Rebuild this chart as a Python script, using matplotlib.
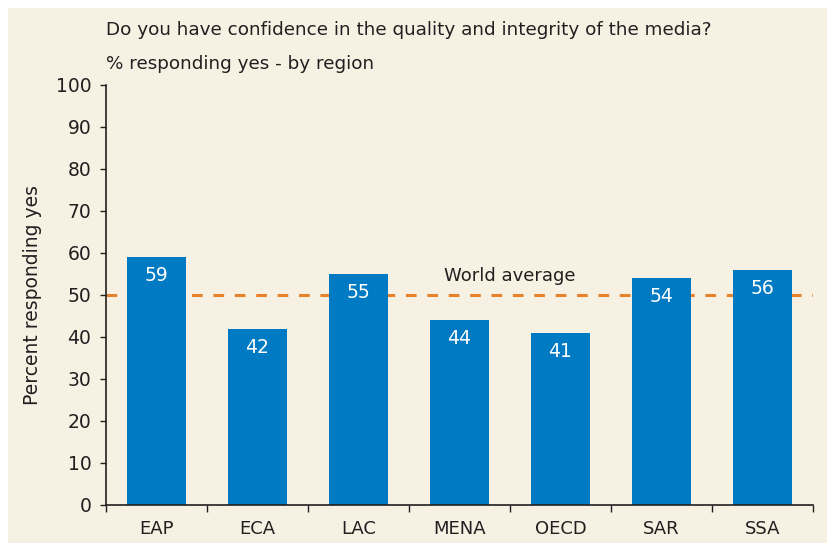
import matplotlib.pyplot as plt
from matplotlib.patches import Rectangle

regions = ["EAP", "ECA", "LAC", "MENA", "OECD", "SAR", "SSA"]
pct_yes = [59, 42, 55, 44, 41, 54, 56]
world_avg = 50

plt.rcParams['font.family'] = ['DejaVu Sans']

cream = "#F6F1E3"
blue = "#007AC2"
orange = "#E8822A"
dark = "#231F20"

fig = plt.figure(figsize=(8.28, 5.43), dpi=100, facecolor="white")
fig.patches.append(Rectangle((8 / 828, 0), 1, 1 - 8 / 543, transform=fig.transFigure,
                             facecolor=cream, edgecolor="none", zorder=-10))

W, H = 828, 543
left, right, top, bottom = 106, 813, 85, 505
ax = fig.add_axes([left / W, 1 - bottom / H, (right - left) / W, (bottom - top) / H])
ax.set_facecolor(cream)

x = list(range(len(regions)))
ax.axhline(world_avg, color=orange, linestyle=(0, (3.5, 3.5)), linewidth=2.2, zorder=1)
bars = ax.bar(x, pct_yes, width=0.58, color=blue, zorder=2)
for xi, v in zip(x, pct_yes):
    ax.annotate(str(v), (xi, v), xytext=(0, -13.5), textcoords="offset points",
                ha="center", va="center", color="white", fontsize=13.5, zorder=3)

ax.text(3.5, world_avg + 4.5, "World average", ha="center", va="center",
        fontsize=13, color=dark)

ax.set_xlim(-0.5, len(regions) - 0.5)
ax.set_ylim(0, 100)
ax.set_yticks(range(0, 101, 10))
ax.tick_params(axis="y", labelsize=13.5, length=4.5, width=1, colors=dark, direction="out", pad=6)
ax.set_xticks([i - 0.5 for i in range(len(regions) + 1)])
ax.set_xticklabels([])
ax.set_xticks(x, minor=True)
ax.set_xticklabels(regions, minor=True)
ax.tick_params(axis="x", which="major", length=5, width=1, colors=dark, direction="out")
ax.tick_params(axis="x", which="minor", length=0, labelsize=13, colors=dark, pad=11)

for s in ["top", "right"]:
    ax.spines[s].set_visible(False)
for s in ["left", "bottom"]:
    ax.spines[s].set_color(dark)
    ax.spines[s].set_linewidth(1.2)

ax.set_ylabel("Percent responding yes", fontsize=13.5, color=dark, labelpad=10)

fig.text(106 / W, 1 - 30 / H, "Do you have confidence in the quality and integrity of the media?",
         fontsize=13.2, color=dark, va="center", ha="left")
fig.text(106 / W, 1 - 64 / H, "% responding yes - by region",
         fontsize=13.2, color=dark, va="center", ha="left")

fig.savefig("out.png", dpi=100, facecolor=fig.get_facecolor())
